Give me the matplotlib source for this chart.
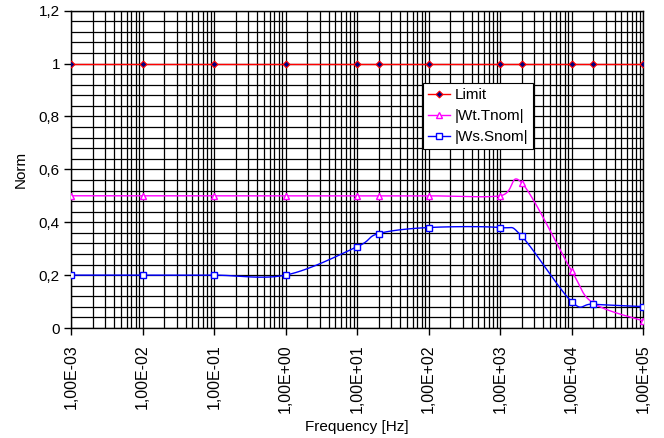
import numpy as np
import matplotlib
matplotlib.use("Agg")
import matplotlib.pyplot as plt
from matplotlib.ticker import LogLocator, MultipleLocator, FuncFormatter, NullFormatter

plt.rcParams['font.family'] = ['Liberation Sans', 'DejaVu Sans']

# frequency points [Hz] and the three norm curves
freq = [1e-3, 1e-2, 1e-1, 1e0, 1e1, 2e1, 1e2, 1e3, 2e3, 1e4, 2e4, 1e5]
limit = [1, 1, 1, 1, 1, 1, 1, 1, 1, 1, 1, 1]
wt_tnom = [0.50, 0.50, 0.50, 0.50, 0.50, 0.50, 0.50, 0.50, 0.55, 0.217, 0.095, 0.027]
ws_snom = [0.20, 0.20, 0.20, 0.20, 0.307, 0.357, 0.38, 0.38, 0.348, 0.10, 0.09, 0.081]


def smooth(x, y, n=30):
    # Catmull-Rom style bezier through the points (log-x space), like a smoothed spreadsheet line
    lx = np.log10(x)
    y = np.asarray(y, float)
    px = np.concatenate([[lx[0]], lx, [lx[-1]]])
    py = np.concatenate([[y[0]], y, [y[-1]]])
    t = np.linspace(0, 1, n)[:, None]
    xs, ys = [], []
    for i in range(1, len(px) - 2):
        p0 = np.array([px[i], py[i]])
        p3 = np.array([px[i + 1], py[i + 1]])
        p1 = p0 + (np.array([px[i + 1], py[i + 1]]) - np.array([px[i - 1], py[i - 1]])) / 6
        p2 = p3 - (np.array([px[i + 2], py[i + 2]]) - np.array([px[i], py[i]])) / 6
        b = ((1 - t) ** 3) * p0 + 3 * ((1 - t) ** 2) * t * p1 + 3 * (1 - t) * t ** 2 * p2 + t ** 3 * p3
        xs.append(b[:, 0])
        ys.append(b[:, 1])
    return 10 ** np.concatenate(xs), np.concatenate(ys)


fig = plt.figure(figsize=(6.64, 4.38), dpi=100)
ax = fig.add_axes([71 / 664, 1 - 328 / 438, 572 / 664, 317.3 / 438])

series = [
    ('Limit', limit, '#FF0000', dict(marker='D', ms=3.5, mfc='#000080', mec='#FF0000', mew=0.8)),
    ('|Wt.Tnom|', wt_tnom, '#FF00FF', dict(marker='^', ms=5, mfc='white', mec='#FF00FF', mew=1)),
    ('|Ws.Snom|', ws_snom, '#0000FF', dict(marker='s', ms=5, mfc='white', mec='#0000FF', mew=1)),
]
for name, vals, col, mk in series:
    sx, sy = smooth(freq, vals)
    ax.plot(sx, sy, color=col, lw=1, zorder=3)
    ax.plot(freq, vals, ls='none', zorder=4, **mk)
    # legend proxy
    ax.plot([], [], color=col, lw=1, label=name, **mk)

ax.set_xscale('log')
ax.set_xlim(1e-3, 1e5)
ax.set_ylim(0, 1.2)
ax.xaxis.set_major_locator(LogLocator(base=10, numticks=20))
ax.xaxis.set_minor_locator(LogLocator(base=10, subs=np.arange(2, 10), numticks=20))
ax.xaxis.set_minor_formatter(NullFormatter())
ax.xaxis.set_major_formatter(FuncFormatter(
    lambda v, p: ('%.2E' % v).replace('.', ',')))
ax.yaxis.set_major_locator(MultipleLocator(0.2))
ax.yaxis.set_minor_locator(MultipleLocator(0.04))
ax.yaxis.set_major_formatter(FuncFormatter(
    lambda v, p: ('%g' % round(v, 2)).replace('.', ',')))

ax.grid(True, which='both', color='black', lw=0.9)
ax.set_axisbelow(True)
ax.tick_params(which='minor', length=0)
ax.tick_params(which='major', direction='out', length=5, width=1, color='black')
ax.tick_params(axis='y', labelsize=11, pad=3)
ax.tick_params(axis='x', labelsize=11.5, labelrotation=90, pad=7)
for s in ax.spines.values():
    s.set_color('black')
    s.set_linewidth(1)

ax.set_xlabel('Frequency [Hz]', fontsize=11, labelpad=5)
ax.set_ylabel('Norm', fontsize=11, labelpad=8)

leg = ax.legend(loc='upper left', bbox_to_anchor=(423 / 664, 1 - 83 / 438),
                bbox_transform=fig.transFigure, fontsize=11, frameon=True,
                fancybox=False, edgecolor='black', framealpha=1,
                handlelength=1.4, handletextpad=0.3, borderpad=0.35,
                labelspacing=0.45, borderaxespad=0)
leg.get_frame().set_linewidth(0.8)

fig.savefig('out.png', dpi=100)
